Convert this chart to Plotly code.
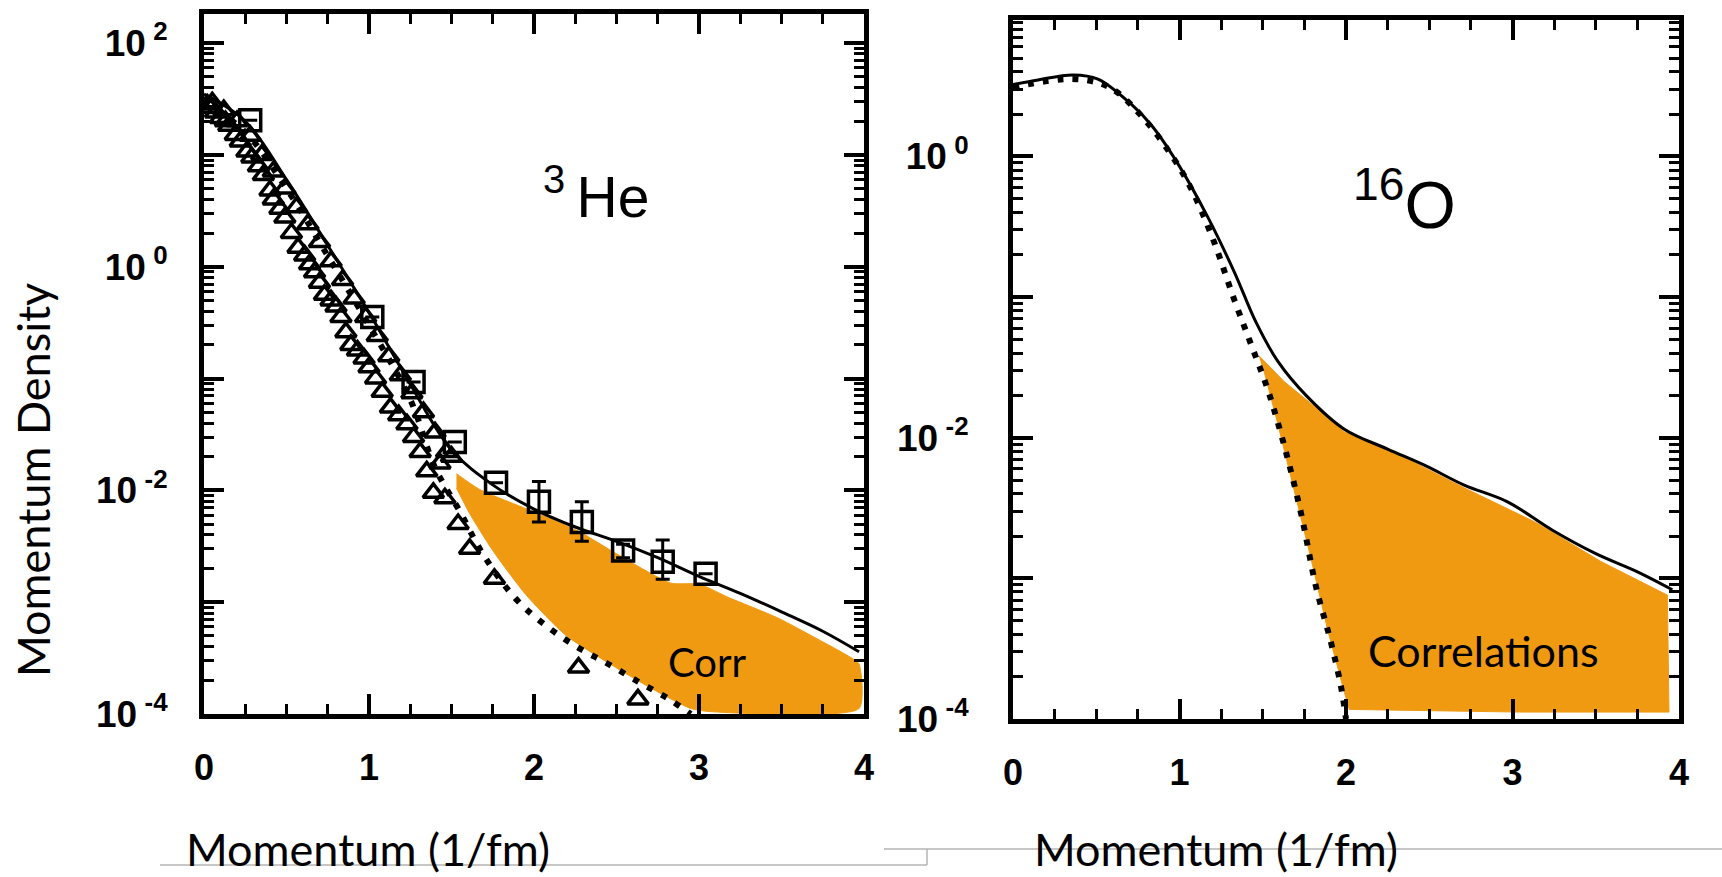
import plotly.graph_objects as go

W, H = 1722, 877

# ---------------- 3He panel data ----------------
he_curve_x = [0.0, 0.25, 0.5, 0.75, 1.0, 1.25, 1.5, 1.75, 2.0, 2.25, 2.5, 2.75, 3.0, 3.25, 3.5, 3.75, 3.97]
he_curve_y = [35, 20, 6.0, 1.55, 0.39, 0.089, 0.023, 0.0112, 0.0068, 0.0047, 0.0035, 0.0025, 0.0017, 0.0012, 0.00082, 0.00055, 0.00036]

he_mf_x = [0.0, 0.25, 0.5, 0.75, 1.0, 1.25, 1.4, 1.55, 1.69, 1.89, 2.09, 2.27, 2.45, 2.63, 2.81, 2.95]
he_mf_y = [30, 16, 5.0, 1.25, 0.30, 0.065, 0.016, 0.0065, 0.0027, 0.00107, 0.00059, 0.00039, 0.00028, 0.000195, 0.000138, 0.0001]

# triangles: lower/left row of the band
he_tri_x = [0.02, 0.04, 0.07, 0.10, 0.13, 0.15, 0.19, 0.22, 0.26, 0.29, 0.33, 0.36, 0.40, 0.42, 0.46, 0.49,
            0.53, 0.57, 0.61, 0.64, 0.67, 0.70, 0.73, 0.77, 0.80, 0.83, 0.86, 0.89, 0.93, 0.97, 1.00, 1.04,
            1.08, 1.13, 1.18, 1.23, 1.27, 1.31, 1.35, 1.39, 1.43, 1.46, 1.50, 1.54, 1.61, 1.76, 2.27, 2.63]
he_tri_y = [28.2, 26.3, 24.0, 21.4, 20.0, 18.2, 15.1, 13.2, 10.7, 9.5, 7.9, 6.6, 4.8, 4.0, 3.3, 2.75,
            2.0, 1.48, 1.26, 1.05, 0.89, 0.72, 0.56, 0.50, 0.44, 0.355, 0.26, 0.20, 0.178, 0.151, 0.126, 0.10,
            0.076, 0.055, 0.047, 0.039, 0.030, 0.022, 0.0148, 0.0095, 0.0174, 0.0085, 0.020, 0.0050, 0.0030,
            0.00162, 0.00026, 0.000135]
# triangles: upper row hugging the solid curve
he_tri2_x = [0.05, 0.12, 0.20, 0.28, 0.35, 0.42, 0.49, 0.56, 0.63, 0.70, 0.77, 0.84, 0.91, 0.98, 1.05,
             1.12, 1.19, 1.26, 1.33, 1.40, 1.47]
he_tri2_y = [29.5, 25.1, 20.0, 14.8, 10.0, 7.1, 5.0, 3.4, 2.4, 1.66, 1.12, 0.76, 0.52, 0.355, 0.24,
             0.158, 0.107, 0.074, 0.050, 0.033, 0.022]

he_sq_x = [0.28, 1.02, 1.27, 1.52, 1.77, 2.03, 2.29, 2.54, 2.78, 3.04]
he_sq_y = [20.4, 0.355, 0.093, 0.027, 0.0117, 0.0079, 0.0052, 0.0029, 0.0023, 0.0018]
he_sq_hi = [20.4, 0.355, 0.093, 0.027, 0.0117, 0.012, 0.0079, 0.0033, 0.0036, 0.0018]
he_sq_lo = [20.4, 0.355, 0.093, 0.027, 0.0117, 0.0052, 0.0035, 0.0025, 0.0016, 0.0018]

he_corr_x = [1.53, 1.67, 1.99, 2.27, 2.55, 2.83, 3.0, 3.18, 3.48, 3.74, 3.92, 3.97, 3.97, 3.07, 2.95,
             2.71, 2.47, 2.19, 1.95, 1.75, 1.61, 1.53]
he_corr_y = [0.0141, 0.0102, 0.0065, 0.0043, 0.00245, 0.00148, 0.00145, 0.0011, 0.00072, 0.00045, 0.00032,
             0.00028, 0.000112, 0.000105, 0.000112, 0.00017, 0.000275, 0.00051, 0.00117, 0.0029, 0.0062, 0.0105]

# ---------------- 16O panel data ----------------
o_curve_x = [0.0, 0.15, 0.36, 0.51, 0.71, 0.84, 1.0, 1.17, 1.33, 1.46, 1.59, 1.76, 1.99, 2.25, 2.48, 2.71,
             2.97, 3.24, 3.5, 3.76, 3.96]
o_curve_y = [3.24, 3.5, 3.8, 3.55, 2.35, 1.62, 0.85, 0.37, 0.15, 0.066, 0.035, 0.020, 0.0115, 0.0083,
             0.0063, 0.0046, 0.0035, 0.0022, 0.0015, 0.0011, 0.00083]

o_mf_x = [0.0, 0.36, 0.58, 0.77, 0.94, 1.07, 1.2, 1.33, 1.43, 1.53, 1.63, 1.73, 1.82, 1.91, 1.97, 2.0]
o_mf_y = [3.1, 3.55, 3.1, 1.95, 1.07, 0.59, 0.26, 0.095, 0.046, 0.022, 0.0087, 0.0029, 0.00087, 0.00035,
          0.00017, 0.0001]

o_corr_x = [1.48, 1.63, 1.89, 1.99, 2.25, 2.71, 3.14, 3.53, 3.93, 3.94, 3.04, 2.02, 1.99, 1.89, 1.79,
            1.69, 1.59, 1.51, 1.48]
o_corr_y = [0.038, 0.025, 0.014, 0.011, 0.0083, 0.0044, 0.0025, 0.00132, 0.00076, 0.000112, 0.000112,
            0.000117, 0.000155, 0.00043, 0.00138, 0.0042, 0.0126, 0.029, 0.038]

x_ticks = [0, 1, 2, 3, 4]
x_ticktext = ["0", "1", "2", "3", "4"]
he_ytickvals = [1e-4, 1e-2, 1, 100]
he_yticktext = ["10\u2009<sup>-4</sup>", "10\u2009<sup>-2</sup>", "10\u2009<sup>0</sup>", "10\u2009<sup>2</sup>"]
he_odd_decades = [1e-3, 1e-1, 10]
o_ytickvals = [1e-4, 1e-2, 1]
o_yticktext = ["10\u2009<sup>-4</sup>", "10\u2009<sup>-2</sup>", "10\u2009<sup>0</sup>"]
o_odd_decades = [1e-3, 1e-1]

ORANGE = "#F09A12"


def px_x(v):
    return v / W


def px_y(v):
    return 1 - v / H


fig = go.Figure()

# orange correlation regions
fig.add_trace(go.Scatter(x=he_corr_x, y=he_corr_y, fill="toself", fillcolor=ORANGE, mode="lines",
                         line=dict(color=ORANGE, width=1, shape="spline", smoothing=0.6),
                         xaxis="x", yaxis="y", hoverinfo="skip"))
fig.add_trace(go.Scatter(x=o_corr_x, y=o_corr_y, fill="toself", fillcolor=ORANGE, mode="lines",
                         line=dict(color=ORANGE, width=1), xaxis="x2", yaxis="y2", hoverinfo="skip"))

# 3He curves and data
fig.add_trace(go.Scatter(x=he_mf_x, y=he_mf_y, mode="lines",
                         line=dict(color="black", width=6, dash="6px,10px", shape="spline"),
                         xaxis="x", yaxis="y"))
fig.add_trace(go.Scatter(x=he_curve_x, y=he_curve_y, mode="lines", line=dict(color="black", width=3, shape="spline"),
                         xaxis="x", yaxis="y"))
tri_marker = dict(symbol="triangle-up-open", size=18, color="black", line=dict(width=3.5, color="black"))
fig.add_trace(go.Scatter(x=he_tri_x, y=he_tri_y, mode="markers", marker=tri_marker, xaxis="x", yaxis="y"))
fig.add_trace(go.Scatter(x=he_tri2_x, y=he_tri2_y, mode="markers", marker=tri_marker, xaxis="x", yaxis="y"))
err_plus = [h - v for h, v in zip(he_sq_hi, he_sq_y)]
err_minus = [v - l for l, v in zip(he_sq_lo, he_sq_y)]
fig.add_trace(go.Scatter(x=he_sq_x, y=he_sq_y, mode="markers",
                         marker=dict(symbol="square-open", size=21, color="black", line=dict(width=3.5, color="black")),
                         error_y=dict(type="data", symmetric=False, array=err_plus, arrayminus=err_minus,
                                      color="black", thickness=3, width=7),
                         xaxis="x", yaxis="y"))

# 16O curves
fig.add_trace(go.Scatter(x=o_mf_x, y=o_mf_y, mode="lines",
                         line=dict(color="black", width=6, dash="6px,9px", shape="spline"),
                         xaxis="x2", yaxis="y2"))
fig.add_trace(go.Scatter(x=o_curve_x, y=o_curve_y, mode="lines", line=dict(color="black", width=3, shape="spline"),
                         xaxis="x2", yaxis="y2"))

# invisible carriers so the overlay axes (unlabelled odd-decade ticks) are drawn
fig.add_trace(go.Scatter(x=[he_curve_x[0]], y=[he_curve_y[0]], mode="markers", marker=dict(opacity=0),
                         xaxis="x", yaxis="y3", hoverinfo="skip"))
fig.add_trace(go.Scatter(x=[o_curve_x[0]], y=[o_curve_y[0]], mode="markers", marker=dict(opacity=0),
                         xaxis="x2", yaxis="y4", hoverinfo="skip"))


def minor_vals(lo, hi):
    vals = []
    for e in range(lo, hi):
        for m in range(2, 10):
            vals.append(m * 10.0 ** e)
    return vals


common_x = dict(range=[0, 4], tickmode="array", tickvals=x_ticks, ticktext=x_ticktext,
                ticks="inside", ticklen=20, tickwidth=4, tickcolor="black",
                minor=dict(ticks="inside", ticklen=10, tickwidth=3, tickcolor="black", dtick=0.25, showgrid=False),
                showline=True, linewidth=5, linecolor="black", mirror="ticks",
                showgrid=False, zeroline=False, automargin=False,
                tickfont=dict(family="Liberation Sans", size=36, color="black", weight="bold"),
                ticklabelstandoff=18)
common_y = dict(type="log", tickmode="array",
                ticks="inside", ticklen=20, tickwidth=4, tickcolor="black",
                showline=True, linewidth=5, linecolor="black", mirror="ticks",
                showgrid=False, zeroline=False, automargin=False,
                tickfont=dict(family="Liberation Sans", size=37, color="black", weight="bold"))
overlay_y = dict(type="log", tickmode="array", ticks="inside", ticklen=20, tickwidth=4, tickcolor="black",
                 showticklabels=False, showline=True, linewidth=5, linecolor="black", mirror="ticks",
                 showgrid=False, zeroline=False, automargin=False, side="left")

HE_RANGE = [-4, 2.26]
O_RANGE = [-4, 0.97]

fig.update_layout(
    width=W, height=H, margin=dict(l=0, r=0, t=0, b=0, pad=0, autoexpand=False),
    paper_bgcolor="white", plot_bgcolor="white", showlegend=False,
    xaxis=dict(domain=[px_x(204), px_x(864)], anchor="y", **common_x),
    yaxis=dict(domain=[px_y(714), px_y(14)], anchor="x", range=HE_RANGE,
               tickvals=he_ytickvals, ticktext=he_yticktext, ticklabelstandoff=24,
               minor=dict(ticks="inside", ticklen=10, tickwidth=3, tickcolor="black",
                          tickmode="array", tickvals=minor_vals(-4, 3), showgrid=False),
               **common_y),
    yaxis3=dict(overlaying="y", anchor="x", range=HE_RANGE, tickvals=he_odd_decades, **overlay_y),
    xaxis2=dict(domain=[px_x(1013), px_x(1679)], anchor="y2", **common_x),
    yaxis2=dict(domain=[px_y(719), px_y(20)], anchor="x2", range=O_RANGE,
                tickvals=o_ytickvals, ticktext=o_yticktext, ticklabelstandoff=32,
                minor=dict(ticks="inside", ticklen=10, tickwidth=3, tickcolor="black",
                           tickmode="array", tickvals=minor_vals(-4, 1), showgrid=False),
                **common_y),
    yaxis4=dict(overlaying="y2", anchor="x2", range=O_RANGE, tickvals=o_odd_decades, **overlay_y),
)

ann_font = dict(family="Lato", size=45, color="black")
annotations = [
    dict(text="Momentum Density", x=px_x(33), y=px_y(480), textangle=-90, font=ann_font),
    dict(text="Momentum (1/fm)", x=px_x(368), y=0, yanchor="bottom", font=ann_font),
    dict(text="Momentum (1/fm)", x=px_x(1216), y=0, yanchor="bottom", font=ann_font),
    dict(text="Corr", x=px_x(707), y=px_y(662), font=dict(family="Lato", size=40, color="black")),
    dict(text="Correlations", x=px_x(1483), y=px_y(650), font=dict(family="Lato", size=43, color="black")),
    dict(text="<sup>3</sup>\u2009He", x=px_x(542), y=px_y(193), xanchor="left",
         font=dict(family="Liberation Sans", size=57, color="black")),
    dict(text="<sup>16</sup>O", x=px_x(1352), y=px_y(200), xanchor="left",
         font=dict(family="Liberation Sans", size=66, color="black")),
]
for a in annotations:
    a.setdefault("xanchor", "center")
    a.setdefault("yanchor", "middle")
    a.update(xref="paper", yref="paper", showarrow=False, borderpad=0)
fig.update_layout(annotations=annotations)

GREY = "#b4b4b4"
shapes = [
    dict(type="line", x0=px_x(160), y0=px_y(865), x1=px_x(927), y1=px_y(865)),
    dict(type="line", x0=px_x(927), y0=px_y(865), x1=px_x(927), y1=px_y(849)),
    dict(type="line", x0=px_x(884), y0=px_y(849), x1=px_x(1722), y1=px_y(849)),
]
for s in shapes:
    s.update(xref="paper", yref="paper", line=dict(color=GREY, width=1.5), layer="below")
fig.update_layout(shapes=shapes)

fig.write_html("out.html")
